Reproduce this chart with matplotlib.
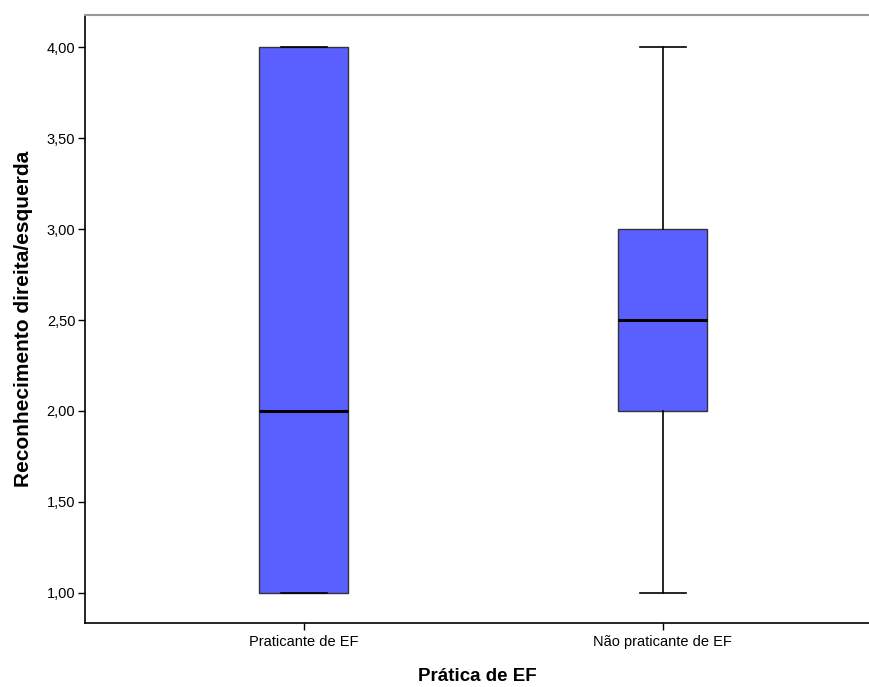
import matplotlib
matplotlib.use("Agg")
import matplotlib.pyplot as plt
from matplotlib.ticker import FuncFormatter

plt.rcParams['font.family'] = ['Liberation Sans', 'DejaVu Sans']

# grupos e resumo de cinco números
groups = ['Praticante de EF', 'Não praticante de EF']
whislo = [1.0, 1.0]
q1 = [1.0, 2.0]
med = [2.0, 2.5]
q3 = [4.0, 3.0]
whishi = [4.0, 4.0]
yticks = [1.0, 1.5, 2.0, 2.5, 3.0, 3.5, 4.0]

stats = []
for i, g in enumerate(groups):
    stats.append(dict(label=g, whislo=whislo[i], q1=q1[i], med=med[i],
                      q3=q3[i], whishi=whishi[i], fliers=[]))

fig = plt.figure(figsize=(8.69, 6.87), dpi=100)
ax = fig.add_axes([85/869, 64/687, 784/869, 608/687])

ax.bxp(stats, positions=[1, 2], widths=0.248, patch_artist=True,
       showfliers=False,
       boxprops=dict(facecolor='#5a5fff', edgecolor='#333333', linewidth=1.0),
       medianprops=dict(color='black', linewidth=2.2),
       whiskerprops=dict(color='black', linewidth=1.2),
       capprops=dict(color='black', linewidth=1.2),
       capwidths=0.128)

ax.set_xlim(0.391, 2.575)
ax.set_ylim(0.835, 4.176)
ax.set_yticks(yticks)
ax.yaxis.set_major_formatter(FuncFormatter(lambda v, p: f'{v:.2f}'.replace('.', ',')))
ax.tick_params(axis='both', direction='out', length=5, width=1, labelsize=10.5, color='black')
ax.tick_params(axis='y', pad=2)

ax.spines['right'].set_visible(False)
ax.spines['top'].set_color('#999999')
ax.spines['top'].set_linewidth(1.5)
ax.spines['left'].set_linewidth(1.2)
ax.spines['bottom'].set_linewidth(1.2)

ax.set_ylabel('Reconhecimento direita/esquerda', fontsize=15, fontweight='bold', labelpad=10)
ax.set_xlabel('Prática de EF', fontsize=13.5, fontweight='bold', labelpad=14)

fig.savefig('out.png', dpi=100)
